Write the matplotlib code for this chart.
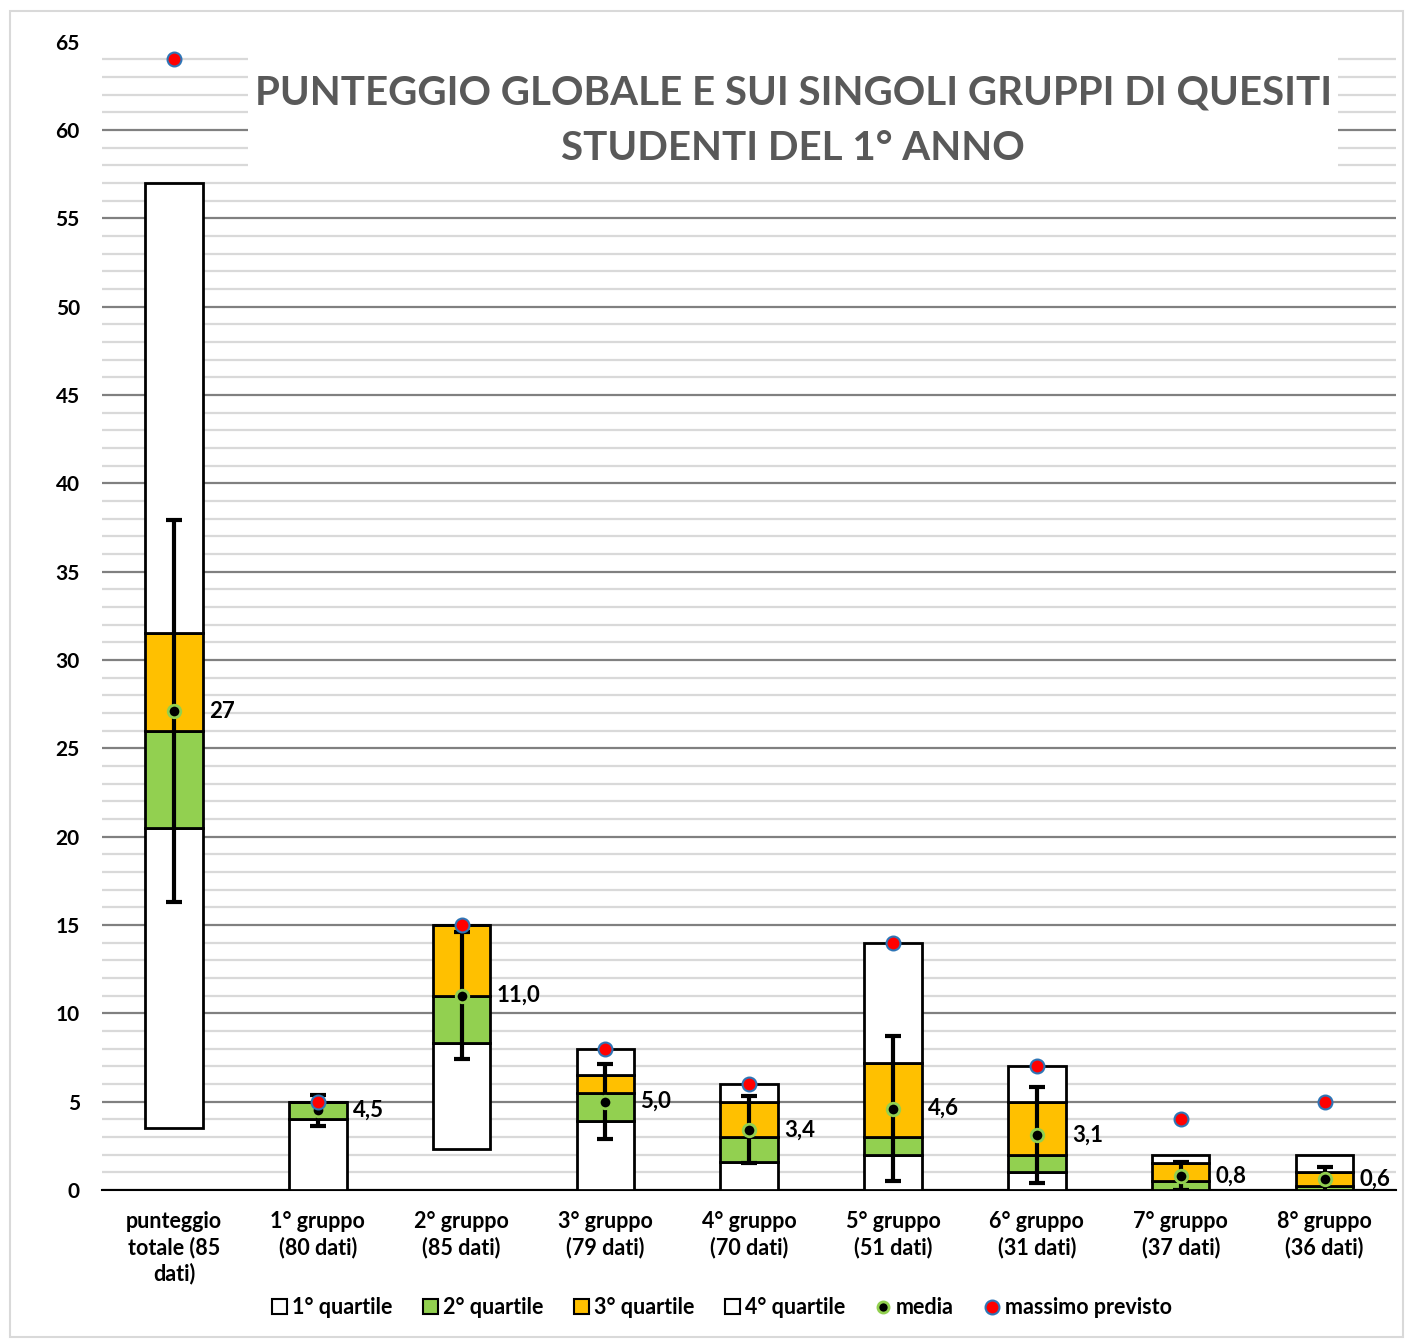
import numpy as np
import matplotlib.pyplot as plt
from matplotlib.ticker import MultipleLocator
from matplotlib.patches import Patch, Rectangle
from matplotlib.lines import Line2D

plt.rcParams['font.family'] = ['Lato', 'DejaVu Sans']
plt.rcParams['font.weight'] = 'bold'

categorie = ['punteggio\ntotale (85\ndati)', '1° gruppo\n(80 dati)', '2° gruppo\n(85 dati)',
             '3° gruppo\n(79 dati)', '4° gruppo\n(70 dati)', '5° gruppo\n(51 dati)',
             '6° gruppo\n(31 dati)', '7° gruppo\n(37 dati)', '8° gruppo\n(36 dati)']
minimo = [3.5, 0, 2.3, 0, 0, 0, 0, 0, 0]
q1 = [20.5, 4.0, 8.3, 3.9, 1.6, 2.0, 1.0, 0, 0]
mediana = [26.0, 5.0, 11.0, 5.5, 3.0, 3.0, 2.0, 0.5, 0.25]
q3 = [31.5, 5.0, 15.0, 6.5, 5.0, 7.2, 5.0, 1.5, 1.0]
massimo = [57.0, 5.0, 15.0, 8.0, 6.0, 14.0, 7.0, 2.0, 2.0]
media = [27.1, 4.5, 11.0, 5.0, 3.4, 4.6, 3.1, 0.8, 0.6]
dev_std = [10.8, 0.9, 3.6, 2.1, 1.9, 4.1, 2.7, 0.8, 0.7]
massimo_previsto = [64, 5, 15, 8, 6, 14, 7, 4, 5]
etichette = ['27', '4,5', '11,0', '5,0', '3,4', '4,6', '3,1', '0,8', '0,6']

verde = '#92D050'
arancio = '#FFC000'

fig = plt.figure(figsize=(14.07, 13.4), dpi=100)
fig.patches.append(Rectangle((0.007, 0.002), 0.99, 0.99, transform=fig.transFigure,
                             fill=False, edgecolor='#D9D9D9', lw=1.5))
ax = fig.add_axes([0.0725, 0.112, 0.92, 0.857])

x = np.arange(len(categorie))
w = 0.4
minimo = np.array(minimo)
h1 = np.array(q1) - minimo
h2 = np.array(mediana) - np.array(q1)
h3 = np.array(q3) - np.array(mediana)
h4 = np.array(massimo) - np.array(q3)

ax.bar(x, minimo, w, color='none', edgecolor='none')
ax.bar(x, h1, w, bottom=minimo, color='white', edgecolor='black', lw=2, zorder=3)
ax.bar(x, h2, w, bottom=minimo + h1, color=verde, edgecolor='black', lw=2, zorder=3)
ax.bar(x, h3, w, bottom=minimo + h1 + h2, color=arancio, edgecolor='black', lw=2, zorder=3)
ax.bar(x, h4, w, bottom=minimo + h1 + h2 + h3, color='white', edgecolor='black', lw=2, zorder=3)

ax.errorbar(x, media, yerr=dev_std, fmt='none', ecolor='black', elinewidth=3,
            capsize=6, capthick=3, zorder=4)
ax.plot(x, media, 'o', ls='none', ms=9, mfc='black', mec=verde, mew=2, zorder=5)
ax.plot(x, massimo_previsto, 'o', ls='none', ms=10, mfc='#FF0000', mec='#2E75B6', mew=1.5,
        zorder=5)

for xi, m, t in zip(x, media, etichette):
    ax.annotate(t, (xi, m), xytext=(35, 0), textcoords='offset pixels', va='center',
                ha='left', fontsize=16, fontweight='bold', color='black', zorder=6)

ax.set_xlim(-0.5, len(categorie) - 0.5)
ax.set_ylim(0, 65)
ax.set_yticks(range(0, 66, 5))
ax.yaxis.set_minor_locator(MultipleLocator(1))
ax.grid(which='major', axis='y', color='#808080', lw=1.6, zorder=0)
ax.grid(which='minor', axis='y', color='#D9D9D9', lw=1.6, zorder=0)
ax.get_ygridlines()[-1].set_visible(False)
ax.set_axisbelow(True)
ax.tick_params(which='both', length=0)
ax.tick_params(axis='y', labelsize=15, pad=16)
ax.tick_params(axis='x', labelsize=15.5, pad=15)
ax.set_xticks(x)
ax.set_xticklabels(categorie, fontweight='bold', linespacing=1.25)
for lab in ax.get_yticklabels():
    lab.set_fontweight('bold')
for s in ['left', 'right', 'top']:
    ax.spines[s].set_visible(False)
ax.spines['bottom'].set_color('black')
ax.spines['bottom'].set_linewidth(1.5)

# riquadro bianco del titolo sopra la griglia
ax.add_patch(Rectangle((0.1128, 0.8825), 0.8423, 0.11, transform=ax.transAxes,
                       facecolor='white', edgecolor='none', zorder=2))
ax.text(0.534, 0.9548, 'PUNTEGGIO GLOBALE E SUI SINGOLI GRUPPI DI QUESITI',
        transform=ax.transAxes, ha='center', va='center', fontsize=29, fontweight='bold',
        color='#595959', zorder=2.5)
ax.text(0.534, 0.9069, 'STUDENTI DEL 1° ANNO',
        transform=ax.transAxes, ha='center', va='center', fontsize=29, fontweight='bold',
        color='#595959', zorder=2.5)

handles = [
    Patch(facecolor='white', edgecolor='black', lw=1.5, label='1° quartile'),
    Patch(facecolor=verde, edgecolor='black', lw=1.5, label='2° quartile'),
    Patch(facecolor=arancio, edgecolor='black', lw=1.5, label='3° quartile'),
    Patch(facecolor='white', edgecolor='black', lw=1.5, label='4° quartile'),
    Line2D([], [], marker='o', ls='none', ms=8, mfc='black', mec=verde, mew=2, label='media'),
    Line2D([], [], marker='o', ls='none', ms=10, mfc='#FF0000', mec='#2E75B6', mew=1.5,
           label='massimo previsto'),
]
fig.legend(handles=handles, loc='center', bbox_to_anchor=(0.513, 0.024), ncol=6,
           frameon=False, handlelength=0.7, handleheight=0.7,
           handletextpad=0.25, columnspacing=1.4, prop={'weight': 'bold', 'size': 15.5})

fig.savefig('out.png', dpi=100)
